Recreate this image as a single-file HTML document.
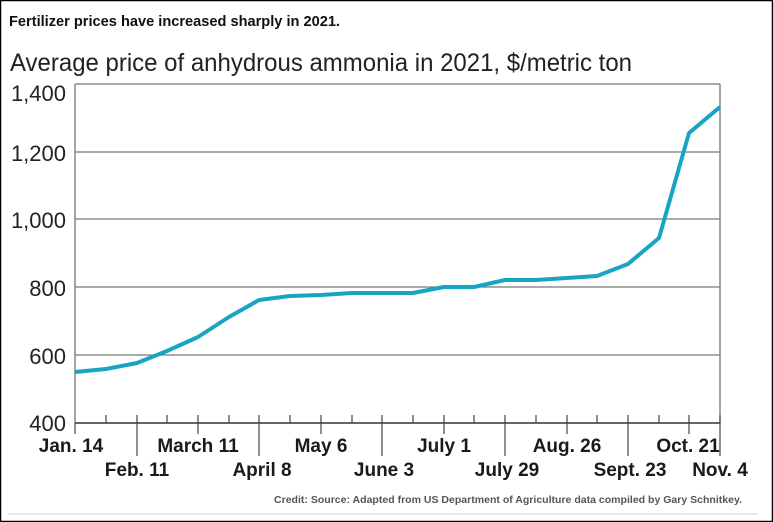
<!DOCTYPE html>
<html><head><style>
body{margin:0;background:#fff;}
svg{display:block;}
</style></head><body>
<svg width="773" height="522" viewBox="0 0 773 522" xmlns="http://www.w3.org/2000/svg">
<rect x="0.5" y="0.5" width="772" height="521" fill="#fff" stroke="#000" stroke-width="1.5"/>
<line x1="8" y1="514" x2="758" y2="514" stroke="#e8e8e8" stroke-width="2"/>
<text x="9" y="26" textLength="331" lengthAdjust="spacingAndGlyphs" font-family="'Liberation Sans',sans-serif" font-weight="bold" font-size="15" fill="#111">Fertilizer prices have increased sharply in 2021.</text>
<text x="10" y="71" textLength="622" lengthAdjust="spacingAndGlyphs" font-family="'Liberation Sans',sans-serif" font-size="25" fill="#222">Average price of anhydrous ammonia in 2021, $/metric ton</text>
<g stroke="#777" stroke-width="1.3">
<line x1="75" y1="84" x2="720" y2="84"/>
<line x1="75" y1="152" x2="720" y2="152"/>
<line x1="75" y1="219" x2="720" y2="219"/>
<line x1="75" y1="287" x2="720" y2="287"/>
<line x1="75" y1="355" x2="720" y2="355"/>
<line x1="75" y1="84" x2="75" y2="423"/>
<line x1="720" y1="84" x2="720" y2="423"/>
</g>
<line x1="75" y1="423" x2="720" y2="423" stroke="#333" stroke-width="1.5"/>
<g font-family="'Liberation Sans',sans-serif" font-size="22" fill="#222" text-anchor="end">
<text x="66" y="101">1,400</text>
<text x="66" y="161">1,200</text>
<text x="66" y="228">1,000</text>
<text x="66" y="296">800</text>
<text x="66" y="364">600</text>
<text x="66" y="431">400</text>
</g>
<g stroke="#444" stroke-width="1.2">
<line x1="75" y1="423" x2="75" y2="434"/>
<line x1="106" y1="415" x2="106" y2="423"/>
<line x1="137" y1="415" x2="137" y2="456"/>
<line x1="167" y1="415" x2="167" y2="423"/>
<line x1="198" y1="415" x2="198" y2="434"/>
<line x1="229" y1="415" x2="229" y2="423"/>
<line x1="259" y1="415" x2="259" y2="456"/>
<line x1="290" y1="415" x2="290" y2="423"/>
<line x1="321" y1="415" x2="321" y2="434"/>
<line x1="352" y1="415" x2="352" y2="423"/>
<line x1="382" y1="415" x2="382" y2="456"/>
<line x1="413" y1="415" x2="413" y2="423"/>
<line x1="444" y1="415" x2="444" y2="434"/>
<line x1="474" y1="415" x2="474" y2="423"/>
<line x1="505" y1="415" x2="505" y2="456"/>
<line x1="536" y1="415" x2="536" y2="423"/>
<line x1="567" y1="415" x2="567" y2="434"/>
<line x1="597" y1="415" x2="597" y2="423"/>
<line x1="628" y1="415" x2="628" y2="456"/>
<line x1="659" y1="415" x2="659" y2="423"/>
<line x1="689" y1="415" x2="689" y2="434"/>
<line x1="720" y1="415" x2="720" y2="456"/>
</g>
<g font-family="'Liberation Sans',sans-serif" font-weight="bold" font-size="19" fill="#1a1a1a" text-anchor="middle">
<text x="71" y="452">Jan. 14</text>
<text x="198" y="452">March 11</text>
<text x="321" y="452">May 6</text>
<text x="444" y="452">July 1</text>
<text x="567" y="452">Aug. 26</text>
<text x="688" y="452">Oct. 21</text>
<text x="137" y="476">Feb. 11</text>
<text x="262" y="476">April 8</text>
<text x="384" y="476">June 3</text>
<text x="507" y="476">July 29</text>
<text x="630" y="476">Sept. 23</text>
<text x="720" y="476">Nov. 4</text>
</g>
<text x="274" y="503" textLength="468" lengthAdjust="spacingAndGlyphs" font-family="'Liberation Sans',sans-serif" font-weight="bold" font-size="10.5" fill="#555">Credit: Source: Adapted from US Department of Agriculture data compiled by Gary Schnitkey.</text>
<polyline fill="none" stroke="#18a5c2" stroke-width="4" stroke-linejoin="round" points="75,372 106,369 137,363 167,351 198,337 229,317 259,300 290,296 321,295 352,293 382,293 413,293 444,287 474,287 505,280 536,280 567,278 597,276 628,264 659,238 689,133 720,107"/>
</svg>
</body></html>
